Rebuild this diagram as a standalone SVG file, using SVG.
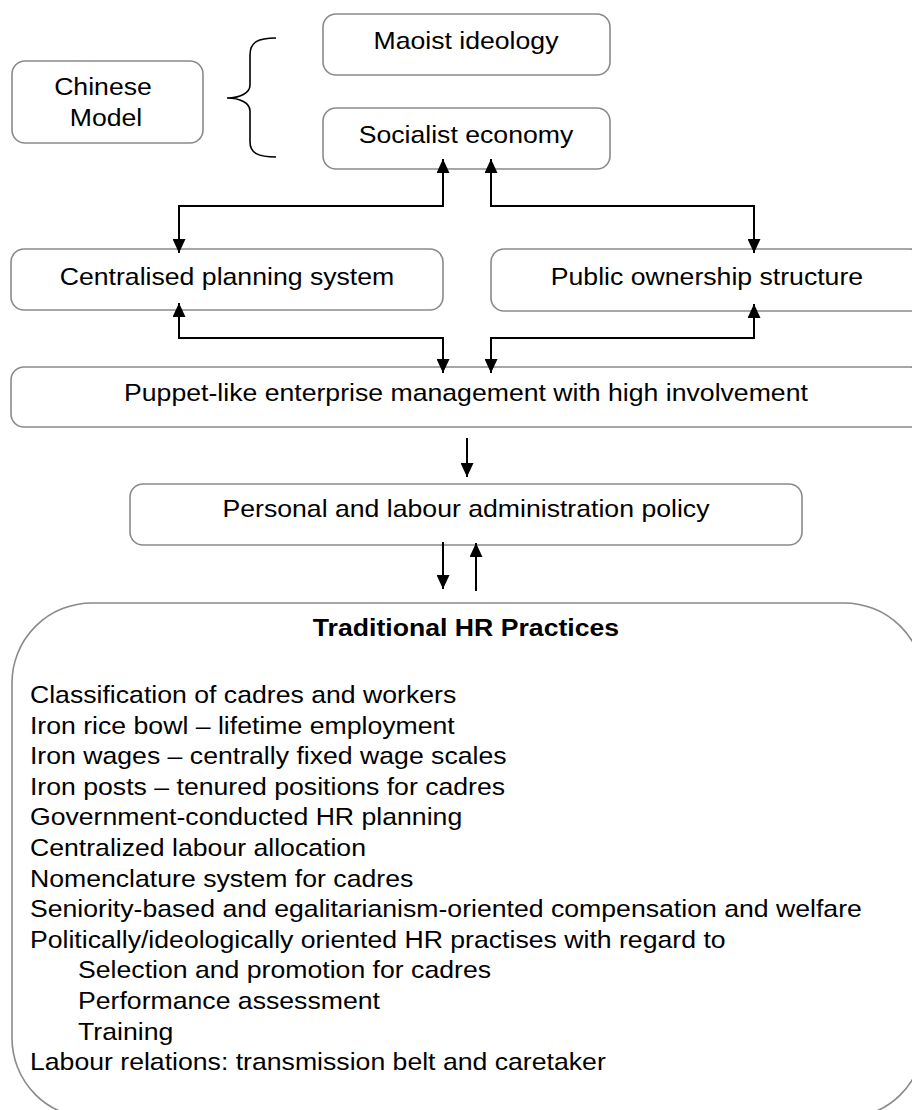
<svg xmlns="http://www.w3.org/2000/svg" width="912" height="1110" viewBox="0 0 912 1110">
<defs>
<style>
.box{fill:#fff;stroke:#8a8a8a;stroke-width:1.6}
.t{font-family:"Liberation Sans",Arial,sans-serif;font-size:24px;fill:#000}
.c{text-anchor:middle}
.b{font-weight:bold}
.conn{fill:none;stroke:#000;stroke-width:2}
</style>
<marker id="ah" viewBox="0 0 14 13" refX="14" refY="6.5" markerWidth="14" markerHeight="13" markerUnits="userSpaceOnUse" orient="auto-start-reverse">
<path d="M0,0 L14,6.5 L0,13 z" fill="#000"/>
</marker>
</defs>
<rect width="912" height="1110" fill="#fff"/>
<g id="chinese-model">
<rect class="box" x="12" y="61" width="191" height="82" rx="13"/>
<g transform="scale(1.11,1)">
<text class="t c" x="92.8" y="95">Chinese</text>
<text class="t c" x="95.5" y="126">Model</text>
</g>
</g>
<g id="brace">
<path d="M276,38 C258,38 250,42 250,55 L250,85 C250,93 240,98 227,98 C240,98 250,103 250,111 L250,142 C250,153 258,157 276,157" fill="none" stroke="#000" stroke-width="1.6"/>
</g>
<g id="maoist">
<rect class="box" x="323" y="14" width="287" height="61" rx="13"/>
<text class="t c" transform="scale(1.11,1)" x="419.8" y="49">Maoist ideology</text>
</g>
<g id="socialist">
<rect class="box" x="323" y="108" width="287" height="61" rx="13"/>
<text class="t c" transform="scale(1.11,1)" x="419.8" y="143">Socialist economy</text>
</g>
<g id="centralised">
<rect class="box" x="11" y="249" width="432" height="61" rx="13"/>
<text class="t c" transform="scale(1.11,1)" x="204.5" y="285">Centralised planning system</text>
</g>
<g id="public">
<rect class="box" x="491" y="249" width="432" height="62" rx="13"/>
<text class="t c" transform="scale(1.11,1)" x="636.9" y="285">Public ownership structure</text>
</g>
<g id="puppet">
<rect class="box" x="11" y="367" width="912" height="60" rx="13"/>
<text class="t c" transform="scale(1.11,1)" x="419.8" y="401">Puppet-like enterprise management with high involvement</text>
</g>
<g id="personal">
<rect class="box" x="130" y="484" width="672" height="61" rx="13"/>
<text class="t c" transform="scale(1.11,1)" x="419.8" y="517">Personal and labour administration policy</text>
</g>
<g id="hr">
<rect class="box" x="12" y="603" width="912" height="515" rx="80"/>
<g transform="scale(1.11,1)">
<text class="t c b" x="419.8" y="636">Traditional HR Practices</text>
<text class="t" x="27" y="703">Classification of cadres and workers</text>
<text class="t" x="27" y="733.6">Iron rice bowl – lifetime employment</text>
<text class="t" x="27" y="764.2">Iron wages – centrally fixed wage scales</text>
<text class="t" x="27" y="794.8">Iron posts – tenured positions for cadres</text>
<text class="t" x="27" y="825.4">Government-conducted HR planning</text>
<text class="t" x="27" y="856">Centralized labour allocation</text>
<text class="t" x="27" y="886.6">Nomenclature system for cadres</text>
<text class="t" x="27" y="917.2">Seniority-based and egalitarianism-oriented compensation and welfare</text>
<text class="t" x="27" y="947.8">Politically/ideologically oriented HR practises with regard to</text>
<text class="t" x="70.3" y="978.4">Selection and promotion for cadres</text>
<text class="t" x="70.3" y="1009">Performance assessment</text>
<text class="t" x="70.3" y="1039.6">Training</text>
<text class="t" x="27" y="1070.2">Labour relations: transmission belt and caretaker</text>
</g>
</g>
<g id="connectors">
<path class="conn" d="M179,253 L179,206 L443,206 L443,159" marker-start="url(#ah)" marker-end="url(#ah)"/>
<path class="conn" d="M754,253 L754,206 L491,206 L491,159" marker-start="url(#ah)" marker-end="url(#ah)"/>
<path class="conn" d="M179,303 L179,338 L443,338 L443,373" marker-start="url(#ah)" marker-end="url(#ah)"/>
<path class="conn" d="M754,304 L754,338 L491,338 L491,373" marker-start="url(#ah)" marker-end="url(#ah)"/>
<path class="conn" d="M467,438 L467,477" marker-end="url(#ah)"/>
<path class="conn" d="M443,542 L443,589" marker-end="url(#ah)"/>
<path class="conn" d="M476,591 L476,543" marker-end="url(#ah)"/>
</g>
</svg>
